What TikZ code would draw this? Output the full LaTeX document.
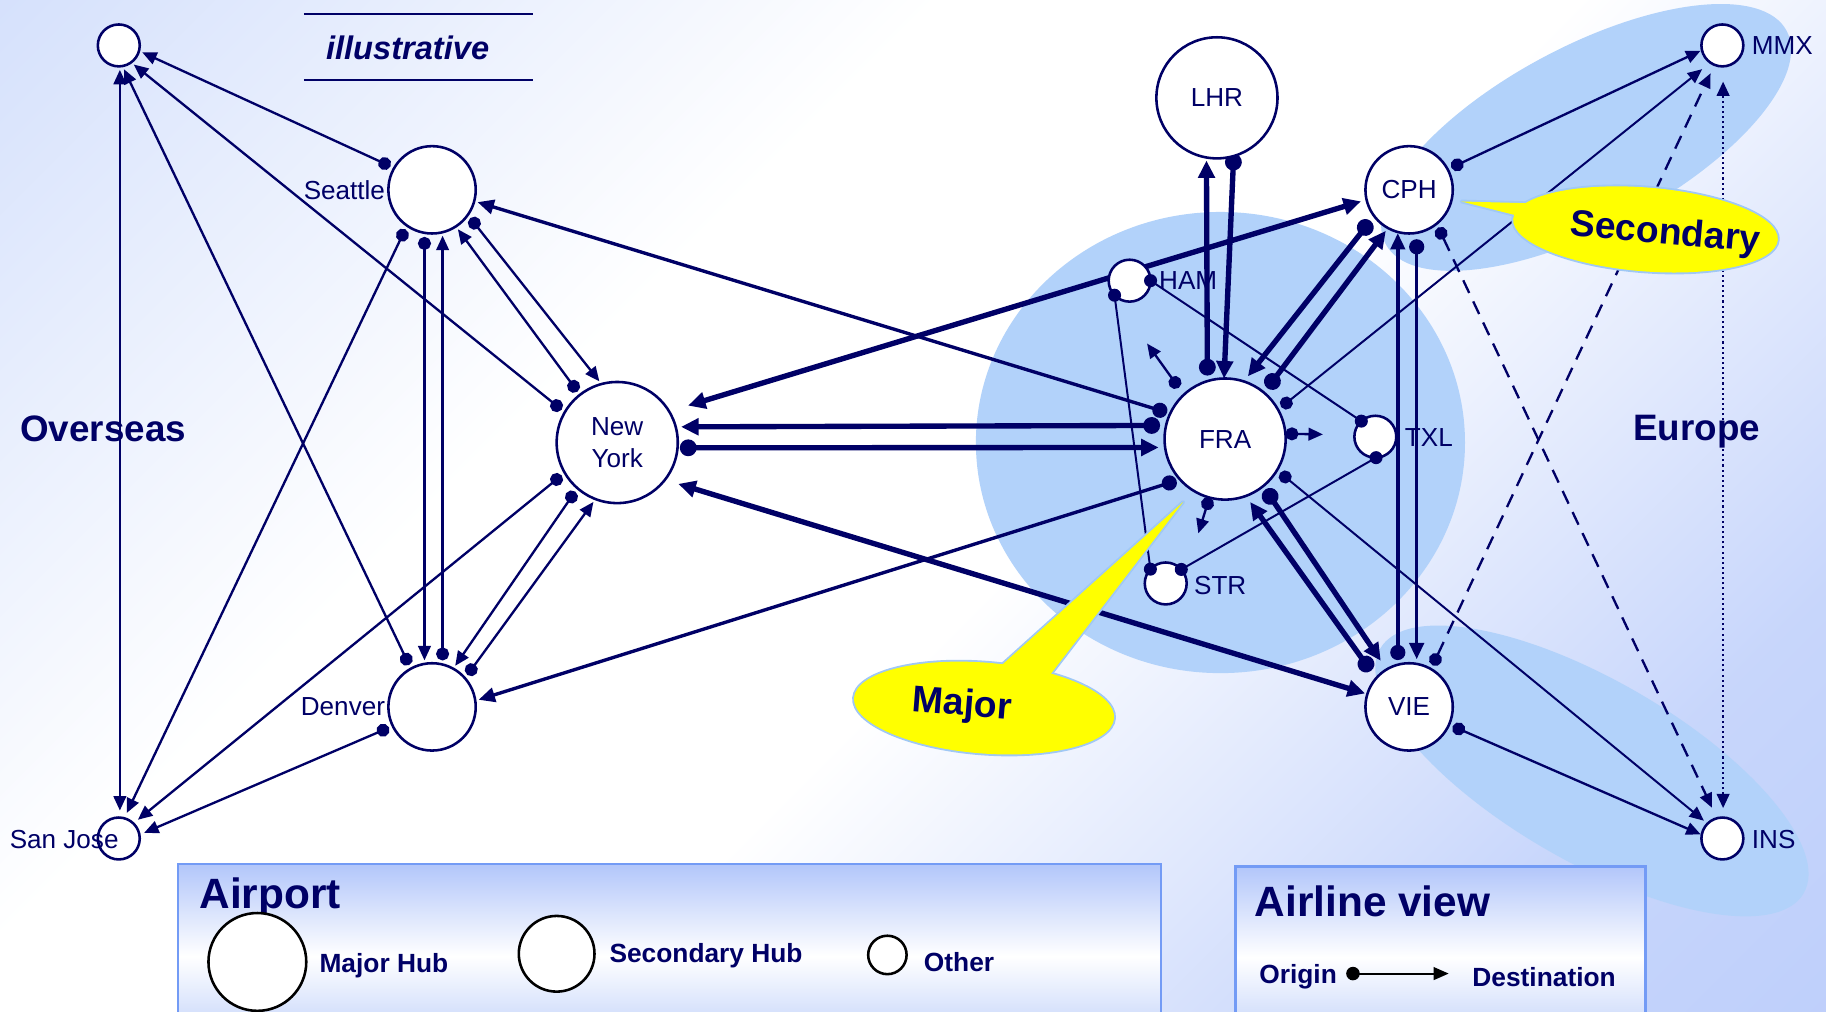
\documentclass[tikz,border=0pt]{standalone}
\usepackage{fontspec}
\setmainfont{Liberation Sans}
\usetikzlibrary{arrows.meta}
\definecolor{navy}{RGB}{0,0,102}
\definecolor{blob}{RGB}{178,210,250}
\definecolor{bgtl}{RGB}{190,208,250}
\definecolor{bgbr}{RGB}{178,198,250}
\definecolor{boxline}{RGB}{115,155,245}
\definecolor{boxtop}{RGB}{178,198,250}
\definecolor{boxbot}{RGB}{188,206,250}
\definecolor{callborder}{RGB}{160,200,245}
\definecolor{callyellow}{RGB}{255,255,0}
\pgfdeclareverticalshading{bgshade}{100bp}{color(0bp)=(bgbr); color(25bp)=(bgbr!72!white); color(46bp)=(white); color(62bp)=(white); color(82bp)=(bgtl!55!white); color(100bp)=(bgtl)}
\pgfdeclarelayer{bglayer}
\pgfdeclarelayer{edgelayer}
\pgfsetlayers{bglayer,edgelayer,main}
\newcommand\fLbl{\fontsize{11.2}{13.5}\selectfont}
\newcommand\fBig{\fontsize{15.8}{18}\selectfont\bfseries}
\newcommand\fCall{\fontsize{16}{19}\selectfont\bfseries}
\newcommand\fTitle{\fontsize{18.2}{21}\selectfont\bfseries}
\newcommand\fLeg{\fontsize{11.3}{13.5}\selectfont\bfseries}
\newcommand\fIll{\fontsize{14}{17}\selectfont\bfseries\itshape}
\tikzset{
 apt/.style={circle, draw=navy, line width=1.1pt, fill=white, inner sep=0pt, outer sep=0pt, text=navy, font=\fLbl},
 majorhub/.style={apt, minimum size=52pt},
 sechub/.style={apt, minimum size=37.5pt},
 otherapt/.style={apt, minimum size=18pt},
 lbl/.style={text=navy, font=\fLbl, inner sep=0pt},
 lnthin/.style={draw=navy, line width=1pt, {Circle[length=5.6pt]}-{Triangle[length=6.2pt,width=5.4pt]}, shorten <=1.75pt, shorten >=1.5pt},
 lnlight/.style={lnthin, line width=0.85pt},
 lnmed/.style={draw=navy, line width=1.45pt, {Circle[length=6.5pt]}-{Triangle[length=7pt,width=6.2pt]}, shorten <=2pt, shorten >=1.5pt},
 lnthick/.style={draw=navy, line width=2.3pt, {Circle[length=7.2pt]}-{Triangle[length=7.5pt,width=7pt]}, shorten <=2pt, shorten >=2pt},
 lnboth/.style={draw=navy, line width=2.3pt, {Triangle[length=7.5pt,width=7pt]}-{Triangle[length=7.5pt,width=7pt]}},
 lnboththin/.style={draw=navy, line width=1pt, {Triangle[length=6.2pt,width=5.4pt]}-{Triangle[length=6.2pt,width=5.4pt]}},
 lnlink/.style={draw=navy, line width=0.85pt},
 legc/.style={circle, draw=black, line width=1.1pt, fill=white, inner sep=0pt},
 legtxt/.style={text=navy, font=\fLeg, inner sep=0pt, anchor=west},
 titletxt/.style={text=navy, font=\fTitle, inner sep=0pt, anchor=west},
 bigtxt/.style={text=navy, font=\fBig, inner sep=0pt, anchor=west},
 calltxt/.style={text=navy, font=\fCall, inner sep=0pt},
 callline/.style={draw=callborder, line width=1.6pt, line join=round},
}
\begin{document}
\begin{tikzpicture}[x=0.5pt,y=-0.5pt]
\useasboundingbox (0,0) rectangle (1568,869);
\begin{pgfonlayer}{bglayer}
 \shade[shading=bgshade, shading angle=45] (0,0) rectangle (1568,869);
 \fill[blob] (1048,380) ellipse [x radius=210, y radius=198];
 \fill[blob, rotate around={28:(1362,118)}] (1362,118) ellipse [x radius=195, y radius=78];
 \fill[blob, rotate around={-30:(1367,662)}] (1367,662) ellipse [x radius=210, y radius=78];
 \shade[top color=boxtop, bottom color=boxbot, middle color=white] (153,742) rectangle (997,900);
 \draw[boxline, line width=1.1pt] (153,742) rectangle (997,900);
 \shade[top color=boxtop, bottom color=boxbot, middle color=white] (1061,744) rectangle (1413,900);
 \draw[boxline, line width=1.1pt] (1061,744) rectangle (1413,900);
\end{pgfonlayer}

% airports
\node[otherapt] (os1) at (102,39) {};
\node[sechub] (sea) at (371,163) {};
\node[majorhub, align=center] (ny) at (530,380) {New\\York};
\node[sechub] (den) at (371,607) {};
\node[otherapt] (sj) at (102,720) {};
\node[majorhub] (lhr) at (1045,84) {LHR};
\node[sechub] (cph) at (1210,163) {CPH};
\node[otherapt] (ham) at (970,241) {};
\node[majorhub] (fra) at (1052,377) {FRA};
\node[otherapt] (txl) at (1181,375) {};
\node[otherapt] (str) at (1001,501) {};
\node[sechub] (vie) at (1210,607) {VIE};
\node[otherapt] (mmx) at (1479,39) {};
\node[otherapt] (ins) at (1479,720) {};

\coordinate (fa1) at (985,295);
\coordinate (fa2) at (1136,373);
\coordinate (fa3) at (1029,458);

\begin{pgfonlayer}{edgelayer}
% overseas network
\draw[lnthin] (sea.150.7) -- (os1.-15.5);
\draw[lnthin] (ny.150.3) -- (os1.-54.8);
\draw[lnthin] (den.119.6) -- (os1.-80);
\draw[lnboththin, shorten <=1.5pt, shorten >=3pt] (os1.-87) -- (sj.87);
\draw[lnthin, shorten >=2.5pt] (sea.-125.7) -- (sj.75.4);
\draw[lnthin, shorten >=2.5pt] (ny.-150.9) -- (sj.46.7);
\draw[lnthin, shorten >=2.2pt] (den.-154.5) -- (sj.10.3);
\draw[lnthin] (sea.-100.8) -- (den.100.8);
\draw[lnthin] (den.76.1) -- (sea.-76.1);
\draw[lnthin] (ny.128.1) -- (sea.-57.1);
\draw[lnthin] (sea.-35.9) -- (ny.105.2);
\draw[lnthin] (ny.-131.6) -- (den.61.8);
\draw[lnthin] (den.41.7) -- (ny.-111);
% transatlantic
\draw[lnmed, shorten <=1.4pt] (fra.155.9) -- (sea.-15.5);
\draw[lnmed, shorten <=1.6pt] (fra.-138.4) -- (den.8.3);
\draw[lnboth, shorten <=8.5pt, shorten >=2.5pt] (ny.31.2) -- (cph.-167.9);
\draw[lnthick, shorten <=2.6pt, shorten >=2.3pt] (fra.167.8) -- (ny.15.3);
\draw[lnthick, shorten <=1pt, shorten >=2.8pt] (ny.-5.4) -- (fra.188.85);
\draw[lnboth, shorten <=6pt, shorten >=1pt] (ny.-38.1) -- (vie.163.9);
% europe
\draw[lnthick, shorten <=2.4pt, shorten >=1.3pt] (fra.107.9) -- (lhr.-100);
\draw[lnthick, shorten <=-1pt, shorten >=0pt] (lhr.-74.7) -- (fra.91);
\draw[lnthick, shorten <=2.6pt, shorten >=2.8pt] (cph.-143.1) -- (fra.72.8);
\draw[lnthick, shorten <=2.4pt, shorten >=1.5pt] (fra.50.1) -- (cph.-119.7);
\draw[lnthick, shorten <=1.7pt, shorten >=4.5pt] (fra.-51.5) -- (vie.121);
\draw[lnthick, shorten <=3.9pt, shorten >=3.2pt] (vie.139.6) -- (fra.-70);
\draw[lnmed, shorten <=2pt, shorten >=0.5pt] (vie.105.5) -- (cph.-105.5);
\draw[lnmed, shorten <=2.75pt, shorten >=2pt] (cph.-80.8) -- (vie.80.8);
\draw[lnthin, shorten >=0.7pt] (cph.28.7) -- (mmx.-167.5);
\draw[lnlight, shorten >=4.5pt] (fra.29) -- (mmx.-125.2);
\draw[lnlight, shorten >=2pt] (fra.-31.9) -- (ins.135);
\draw[lnthin, shorten >=0.5pt] (vie.-24) -- (ins.170.5);
\draw[lnthin, dash pattern=on 6pt off 4pt, shorten >=5pt] (cph.-51.7) -- (ins.105);
\draw[lnthin, dash pattern=on 6pt off 4pt, shorten >=4pt] (vie.60.9) -- (mmx.-112);
\draw[lnboththin, line width=1.15pt, dash pattern=on 0.9pt off 1.3pt, shorten <=4pt, shorten >=6.5pt] (ins.88) -- (mmx.-88);
\draw[lnlink] (ham.0) -- (txl.132.7);
\draw[lnlink] (ham.-136.2) -- (str.137.4);
\draw[lnlink] (txl.-88) -- (str.42.6);
\draw[lnthin, shorten <=3.7pt, shorten >=0pt] (fra.133.3) -- (fa1);
\draw[lnthin, shorten <=0pt, shorten >=0pt] (fra.5) -- (fa2);
\draw[lnthin, shorten <=0pt, shorten >=0pt] (fra.-105.5) -- (fa3);
\end{pgfonlayer}

% dots on small airports
\fill[navy] (ham.0) circle[radius=5.6];
\fill[navy] (ham.-136.2) circle[radius=5.6];
\fill[navy] (txl.132.7) circle[radius=5.6];
\fill[navy] (txl.-88) circle[radius=5.6];
\fill[navy] (str.137.4) circle[radius=5.6];
\fill[navy] (str.42.6) circle[radius=5.6];

% labels
\node[lbl, anchor=east] (sealbl) at (331,163) {Seattle};
\node[lbl, anchor=east] (denlbl) at (331,607) {Denver};
\node[lbl, anchor=west] (sjlbl) at (8,721) {San Jose};
\node[lbl, anchor=west] (hamlbl) at (995,241) {HAM};
\node[lbl, anchor=west] (txllbl) at (1206,376) {TXL};
\node[lbl, anchor=west] (strlbl) at (1025,503) {STR};
\node[lbl, anchor=west] (mmxlbl) at (1504,39) {MMX};
\node[lbl, anchor=west] (inslbl) at (1504,721) {INS};
\node[bigtxt] (overseas) at (17,368) {Overseas};
\node[bigtxt] (europe) at (1402,371) {Europe};
\node[text=navy, font=\fIll, inner sep=0pt] (illus) at (350,41) {illustrative};
\draw[navy, line width=0.9pt] (261,12) -- (458,12);
\draw[navy, line width=0.9pt] (261,69) -- (458,69);

% callouts
\draw[callline, rotate around={-4.5:(845,608)}] (845,608) ellipse [x radius=112, y radius=39];
\draw[callline] (1016,431) -- (857,574) -- (899,583) -- cycle;
\fill[callyellow, rotate around={-4.5:(845,608)}] (845,608) ellipse [x radius=112, y radius=39];
\fill[callyellow] (1016,431) -- (857,574) -- (899,583) -- cycle;
\node[calltxt, rotate=-4.5] (majortxt) at (826,606) {Major};

\draw[callline, rotate around={-4.5:(1413,197)}] (1413,197) ellipse [x radius=114, y radius=36];
\draw[callline] (1255,173) -- (1330,175) -- (1320,189.5) -- cycle;
\fill[callyellow, rotate around={-4.5:(1413,197)}] (1413,197) ellipse [x radius=114, y radius=36];
\fill[callyellow] (1255,173) -- (1330,175) -- (1320,189.5) -- cycle;
\node[calltxt, rotate=-5] (sectxt) at (1430,201) {Secondary};

% legend: airport
\node[titletxt] (airport) at (171,771) {Airport};
\node[legc, minimum size=42pt] (lmaj) at (221,826) {};
\node[legtxt] (lmajtxt) at (274,829) {Major Hub};
\node[legc, minimum size=32.5pt] (lsec) at (478,819) {};
\node[legtxt] (lsectxt) at (523,821) {Secondary Hub};
\node[legc, minimum size=16.5pt] (loth) at (762,820) {};
\node[legtxt] (lothtxt) at (793,826) {Other};

% legend: airline view
\node[titletxt] (airline) at (1077,774) {Airline view};
\node[legtxt] (orig) at (1081,839) {Origin};
\node[legtxt] (dest) at (1264,839) {Destination};
\coordinate (lgs) at (1156,836);
\coordinate (lge) at (1244,836);
\draw[black, line width=0.8pt, {Circle[length=5.8pt]}-{Triangle[length=6.5pt,width=5.5pt]}] (lgs) -- (lge);
\end{tikzpicture}
\end{document}
